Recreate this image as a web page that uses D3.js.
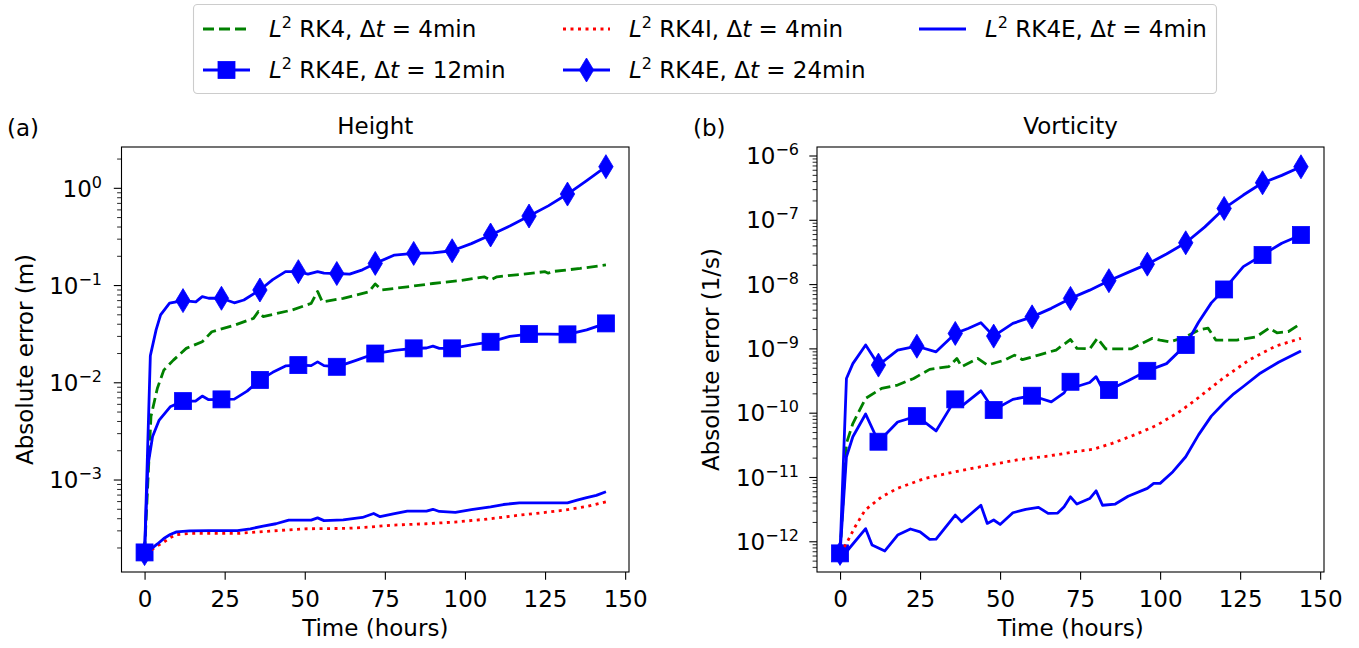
<!DOCTYPE html>
<html>
<head>
<meta charset="utf-8">
<script src="https://cdn.jsdelivr.net/npm/d3@7"></script>
<style>
  body { margin: 0; background: #fff; }
  text { font-family: "DejaVu Sans", sans-serif; fill: #000; white-space: pre; }
</style>
</head>
<body>
<svg id="chart" width="1359" height="648"></svg>
<script>
// ---- data ----
const hourTicks = [0, 25, 50, 75, 100, 125, 150];
const panelTitles = ["Height", "Vorticity"];
const panelLetters = ["(a)", "(b)"];
const yLabels = ["Absolute error (m)", "Absolute error (1/s)"];
const legendMethods = ["RK4", "RK4E", "RK4I", "RK4E", "RK4E"];
const legendSteps = ["4", "12", "4", "24", "4"];

// Height panel
const hRK4Hours = [0, 2, 4, 6, 9, 13, 18, 21, 28, 34, 35.5, 37, 46, 52, 54, 55.5, 62, 70, 72, 74, 82, 90, 98, 106, 108, 110, 118, 125, 126, 127, 136, 144];
const hRK4 = [1.8e-4, 4.5e-3, 8.8e-3, 0.0135, 0.0171, 0.0226, 0.0264, 0.0335, 0.039, 0.046, 0.054, 0.048, 0.056, 0.0656, 0.087, 0.068, 0.074, 0.086, 0.104, 0.090, 0.097, 0.105, 0.112, 0.123, 0.114, 0.123, 0.131, 0.139, 0.134, 0.139, 0.150, 0.163];
const hRK4E12Hours = [0, 1, 2.5, 4.5, 8, 12, 16, 18, 20, 24, 28, 32, 36, 40, 44, 48, 52, 54, 56, 60, 66, 72, 78, 84, 88, 90, 92, 96, 102, 108, 114, 120, 126, 132, 138, 144];
const hRK4E12 = [1.8e-4, 1.37e-3, 2.8e-3, 4.1e-3, 5.66e-3, 6.48e-3, 6.5e-3, 7.3e-3, 6.7e-3, 6.75e-3, 6.8e-3, 8.2e-3, 0.0107, 0.0128, 0.0149, 0.0152, 0.0150, 0.0164, 0.0150, 0.0146, 0.0170, 0.020, 0.0215, 0.0226, 0.0228, 0.0238, 0.0226, 0.0226, 0.0245, 0.0264, 0.030, 0.0317, 0.0316, 0.0315, 0.035, 0.0408];
const hRK4IHours = [0, 2, 4, 6, 8, 10, 14, 29, 40, 50, 63, 70, 77, 88, 98, 108, 117, 124, 131, 138, 144];
const hRK4I = [1.8e-4, 1.9e-4, 2.1e-4, 2.3e-4, 2.55e-4, 2.75e-4, 2.82e-4, 2.82e-4, 3.0e-4, 3.15e-4, 3.18e-4, 3.28e-4, 3.43e-4, 3.55e-4, 3.72e-4, 4.0e-4, 4.35e-4, 4.6e-4, 4.9e-4, 5.35e-4, 5.97e-4];
const hRK4E24Hours = [0, 1.8, 3.6, 5, 7.8, 12, 16, 18, 20, 24, 28, 31, 36, 40, 44, 48, 51, 54, 56, 60, 64, 68, 72, 78, 84, 90, 96, 102, 108, 114, 120, 126, 132, 138, 144];
const hRK4E24 = [1.75e-4, 0.019, 0.035, 0.050, 0.066, 0.070, 0.068, 0.077, 0.074, 0.074, 0.0665, 0.071, 0.090, 0.115, 0.139, 0.139, 0.131, 0.139, 0.134, 0.133, 0.131, 0.145, 0.169, 0.206, 0.214, 0.217, 0.228, 0.27, 0.331, 0.41, 0.519, 0.66, 0.873, 1.2, 1.67];
const hRK4E4Hours = [0, 2, 4, 6, 8, 10, 14, 20, 29, 33, 37, 41, 45, 52, 54, 56, 62, 68, 71.5, 73.5, 78, 82, 88, 90, 92, 97, 102, 108, 112, 117, 132, 135, 138, 141, 144];
const hRK4E4 = [1.8e-4, 1.95e-4, 2.2e-4, 2.5e-4, 2.75e-4, 2.93e-4, 3.0e-4, 3.02e-4, 3.02e-4, 3.15e-4, 3.36e-4, 3.55e-4, 3.87e-4, 3.87e-4, 4.08e-4, 3.82e-4, 3.9e-4, 4.12e-4, 4.53e-4, 4.2e-4, 4.5e-4, 4.79e-4, 4.79e-4, 5.0e-4, 4.75e-4, 4.64e-4, 4.95e-4, 5.3e-4, 5.6e-4, 5.83e-4, 5.83e-4, 6.2e-4, 6.6e-4, 6.95e-4, 7.57e-4];

// Vorticity panel
const vRK4Hours = [0, 2, 4, 8, 13, 18, 23, 28, 34, 36.5, 38, 43, 46, 51.5, 54.5, 57, 62, 67.5, 72, 74, 78, 80.4, 83, 91, 97.6, 100, 103, 108, 112, 115, 117.4, 124, 130, 134, 136.5, 140, 144];
const vRK4 = [6.6e-13, 3.4e-11, 6.9e-11, 1.7e-10, 2.43e-10, 2.74e-10, 3.47e-10, 4.8e-10, 5.3e-10, 7.1e-10, 5.3e-10, 7.1e-10, 5.6e-10, 6.7e-10, 8.0e-10, 6.8e-10, 8.0e-10, 9.6e-10, 1.4e-9, 1.02e-9, 1.0e-9, 1.46e-9, 1.0e-9, 1.0e-9, 1.46e-9, 1.37e-9, 1.28e-9, 1.54e-9, 1.96e-9, 2.1e-9, 1.37e-9, 1.37e-9, 1.54e-9, 2.1e-9, 1.78e-9, 1.85e-9, 2.49e-9];
const vRK4E12Hours = [0, 2, 4, 8, 12, 18, 24, 30, 36, 38, 44, 48, 54, 60, 66, 70, 72, 74, 78, 80, 82, 84, 90, 96, 102, 108, 112, 116, 120, 126, 132, 138, 144];
const vRK4E12 = [6.6e-13, 2.1e-11, 4.3e-11, 9.7e-11, 3.6e-11, 7.3e-11, 9.0e-11, 5.3e-11, 1.64e-10, 1.29e-10, 2.23e-10, 1.12e-10, 1.64e-10, 1.87e-10, 1.5e-10, 2.07e-10, 3.08e-10, 2.6e-10, 3.0e-10, 3.7e-10, 2.4e-10, 2.29e-10, 3.2e-10, 4.56e-10, 5.9e-10, 1.15e-9, 2.6e-9, 5.2e-9, 8.4e-9, 1.9e-8, 2.88e-8, 4.4e-8, 5.9e-8];
const vRK4IHours = [0, 2, 4.7, 7.8, 13, 18, 26.6, 36, 44, 55, 65, 73, 79, 85, 92, 99, 106, 111, 120, 128, 136, 144];
const vRK4I = [6.6e-13, 9.4e-13, 1.71e-12, 3.1e-12, 5.0e-12, 6.8e-12, 9.7e-12, 1.23e-11, 1.47e-11, 1.87e-11, 2.15e-11, 2.5e-11, 2.74e-11, 3.39e-11, 4.6e-11, 6.5e-11, 1.05e-10, 1.6e-10, 3.6e-10, 6.8e-10, 1.1e-9, 1.46e-9];
const vRK4E24Hours = [0, 2, 4, 8, 12, 18, 24, 30, 36, 40, 44, 48, 54, 60, 66, 72, 78, 84, 90, 96, 102, 108, 114, 120, 126, 132, 138, 144];
const vRK4E24 = [6.6e-13, 3.47e-10, 5.9e-10, 1.15e-9, 5.6e-10, 9.6e-10, 1.1e-9, 9.0e-10, 1.74e-9, 2.08e-9, 2.55e-9, 1.58e-9, 2.49e-9, 3.15e-9, 4.27e-9, 6.1e-9, 8.2e-9, 1.15e-8, 1.55e-8, 2.08e-8, 3.0e-8, 4.47e-8, 7.9e-8, 1.53e-7, 2.47e-7, 3.83e-7, 5.0e-7, 6.8e-7];
const vRK4E4Hours = [0, 2, 8, 10, 14, 18, 22, 25, 28, 30, 36, 38, 44, 46, 48, 50, 54, 58, 62, 65, 68, 70, 72, 74, 78, 80, 82, 86, 90, 96, 98, 100, 104, 108, 112, 116, 120, 123, 126, 131, 137, 144];
const vRK4E4 = [6.6e-13, 7.0e-13, 1.6e-12, 8.9e-13, 7.2e-13, 1.27e-12, 1.58e-12, 1.43e-12, 1.09e-12, 1.1e-12, 2.6e-12, 2.05e-12, 3.7e-12, 1.93e-12, 2.18e-12, 1.86e-12, 2.83e-12, 3.2e-12, 3.43e-12, 2.77e-12, 2.8e-12, 3.5e-12, 5.0e-12, 3.86e-12, 4.7e-12, 6.2e-12, 3.7e-12, 3.86e-12, 5.1e-12, 6.76e-12, 8.1e-12, 8.1e-12, 1.23e-11, 2.1e-11, 4.6e-11, 9.0e-11, 1.45e-10, 2.0e-10, 2.6e-10, 4.1e-10, 6.2e-10, 9.3e-10];

// ---- styles ----
const BLUE = "#0000ff", GREEN = "#008000", RED = "#ff0000";
const LW = 2.8;
const FS = 23, SUP = 16;
const styles = [
  { color: GREEN, dash: "11,5", marker: null },
  { color: BLUE, dash: null, marker: "square" },
  { color: RED, dash: "3,4.5", marker: null },
  { color: BLUE, dash: null, marker: "diamond" },
  { color: BLUE, dash: null, marker: null }
];

const panels = [
  {
    left: 121.5, right: 629, top: 147, bottom: 572,
    yDomain: [Math.pow(10, -3.946), Math.pow(10, 0.425)],
    labelRight: 102, letterX: 7, yLabelX: 33,
    series: [[hRK4Hours, hRK4], [hRK4E12Hours, hRK4E12], [hRK4IHours, hRK4I], [hRK4E24Hours, hRK4E24], [hRK4E4Hours, hRK4E4]]
  },
  {
    left: 817, right: 1324, top: 147, bottom: 572,
    yDomain: [Math.pow(10, -12.47), Math.pow(10, -5.86)],
    labelRight: 799, letterX: 693, yLabelX: 719,
    series: [[vRK4Hours, vRK4], [vRK4E12Hours, vRK4E12], [vRK4IHours, vRK4I], [vRK4E24Hours, vRK4E24], [vRK4E4Hours, vRK4E4]]
  }
];

const svg = d3.select("#chart");

function supLabel(textSel, base, sup) {
  textSel.append("tspan").text(base);
  textSel.append("tspan").attr("dy", -9).attr("font-size", SUP).text(sup);
}

function drawMarker(g, kind, cx, cy, color) {
  if (kind === "square") {
    g.append("rect").attr("x", cx - 8.5).attr("y", cy - 8.5)
      .attr("width", 17).attr("height", 17)
      .attr("fill", color).attr("stroke", color).attr("stroke-width", 0.8);
  } else if (kind === "diamond") {
    g.append("path")
      .attr("d", `M${cx},${cy - 12} L${cx + 7.2},${cy} L${cx},${cy + 12} L${cx - 7.2},${cy} Z`)
      .attr("fill", color).attr("stroke", color).attr("stroke-width", 0.8);
  }
}

panels.forEach((p, pi) => {
  const x = d3.scaleLinear().domain([-7.2, 151.2]).range([p.left, p.right]);
  const y = d3.scaleLog().domain(p.yDomain).range([p.bottom, p.top]);
  const g = svg.append("g");

  // clip
  const clipId = "clip" + pi;
  svg.append("clipPath").attr("id", clipId).append("rect")
    .attr("x", p.left).attr("y", p.top).attr("width", p.right - p.left).attr("height", p.bottom - p.top);

  // y ticks (major + minor)
  const lo = Math.floor(Math.log10(p.yDomain[0])), hi = Math.ceil(Math.log10(p.yDomain[1]));
  for (let e = lo; e <= hi; e++) {
    for (let k = 1; k <= 9; k++) {
      const v = k * Math.pow(10, e);
      if (v < p.yDomain[0] || v > p.yDomain[1]) continue;
      const yy = y(v);
      g.append("line").attr("x1", p.left).attr("x2", p.left - (k === 1 ? 7.7 : 4.4))
        .attr("y1", yy).attr("y2", yy).attr("stroke", "#000").attr("stroke-width", k === 1 ? 1.1 : 0.85);
      if (k === 1) {
        const t = g.append("text").attr("x", p.labelRight).attr("y", yy + 8.2)
          .attr("text-anchor", "end").attr("font-size", FS);
        supLabel(t, "10", e < 0 ? "\u2212" + (-e) : String(e));
      }
    }
  }

  // x axis
  const xAxis = d3.axisBottom(x).tickValues(hourTicks).tickSize(7.7).tickPadding(5);
  const ax = g.append("g").attr("transform", `translate(0,${p.bottom})`).call(xAxis);
  ax.select(".domain").remove();
  ax.selectAll(".tick line").attr("stroke", "#000").attr("stroke-width", 1.1);
  ax.selectAll(".tick text").attr("font-size", FS).attr("font-family", "DejaVu Sans")
    .attr("fill", "#000").attr("dy", null).attr("y", 35);

  // series
  const lineGen = d3.line().x(d => x(d[0])).y(d => y(d[1]));
  const plot = g.append("g").attr("clip-path", `url(#${clipId})`);
  p.series.forEach((s, si) => {
    const st = styles[si];
    const pts = s[0].map((t, i) => [t, s[1][i]]);
    plot.append("path").datum(pts).attr("d", lineGen)
      .attr("fill", "none").attr("stroke", st.color).attr("stroke-width", LW)
      .attr("stroke-linejoin", "round")
      .attr("stroke-dasharray", st.dash);
    if (st.marker) {
      pts.filter(d => d[0] % 12 === 0).forEach(d => drawMarker(plot, st.marker, x(d[0]), y(d[1]), st.color));
    }
  });

  // frame
  g.append("rect").attr("x", p.left).attr("y", p.top)
    .attr("width", p.right - p.left).attr("height", p.bottom - p.top)
    .attr("fill", "none").attr("stroke", "#000").attr("stroke-width", 1.1);

  // titles & labels
  const cx = (p.left + p.right) / 2;
  g.append("text").attr("x", cx).attr("y", 133.5).attr("text-anchor", "middle")
    .attr("font-size", FS).text(panelTitles[pi]);
  g.append("text").attr("x", p.letterX).attr("y", 136).attr("font-size", FS).text(panelLetters[pi]);
  g.append("text").attr("x", cx).attr("y", 636).attr("text-anchor", "middle")
    .attr("font-size", FS).text("Time (hours)");
  g.append("text").attr("transform", `translate(${p.yLabelX},${(p.top + p.bottom) / 2}) rotate(-90)`)
    .attr("text-anchor", "middle").attr("font-size", FS).text(yLabels[pi]);
});

// ---- legend ----
const legend = svg.append("g");
legend.append("rect").attr("x", 193.5).attr("y", 4.5).attr("width", 1023).attr("height", 89)
  .attr("rx", 4).attr("fill", "#fff").attr("stroke", "#cccccc").attr("stroke-width", 1.1);

const colX = [203, 563, 919];
const rowY = [29, 70];
styles.forEach((st, i) => {
  const col = Math.floor(i / 2), row = i % 2;
  const x0 = colX[col], yc = rowY[row];
  legend.append("line").attr("x1", x0).attr("x2", x0 + 47).attr("y1", yc).attr("y2", yc)
    .attr("stroke", st.color).attr("stroke-width", LW).attr("stroke-dasharray", st.dash);
  if (st.marker) drawMarker(legend, st.marker, x0 + 23.5, yc, st.color);
  const t = legend.append("text").attr("x", x0 + 66).attr("y", yc + 8).attr("font-size", FS);
  t.append("tspan").attr("font-style", "italic").text("L");
  t.append("tspan").attr("dy", -9).attr("font-size", SUP).text("2");
  t.append("tspan").attr("dy", 9).text(" " + legendMethods[i] + ", \u0394");
  t.append("tspan").attr("font-style", "italic").text("t");
  t.append("tspan").text(" = " + legendSteps[i] + "min");
});
</script>
</body>
</html>
